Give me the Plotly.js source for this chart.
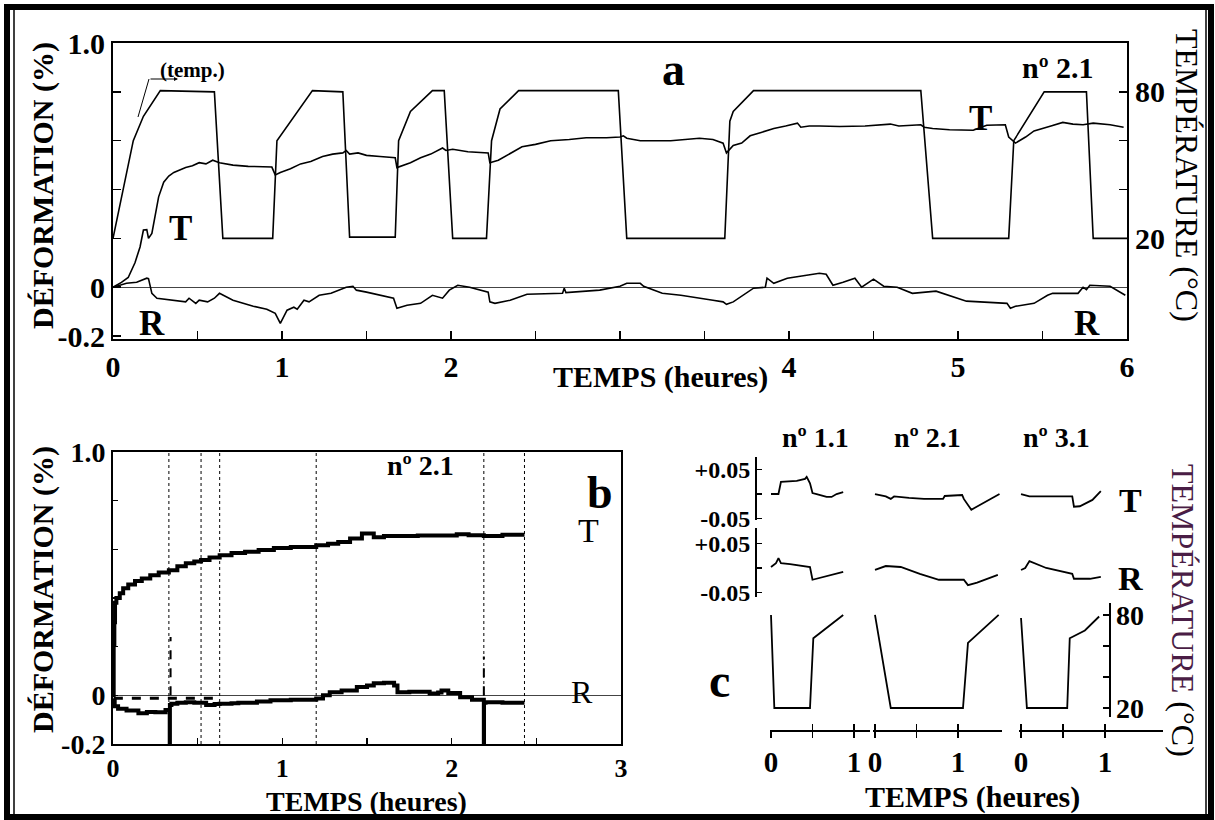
<!DOCTYPE html>
<html><head><meta charset="utf-8">
<script src="https://cdn.plot.ly/plotly-3.0.1.min.js"></script>
<style>html,body{margin:0;padding:0;background:#fff}#chart{width:1215px;height:820px}</style>
</head><body><div id="chart"></div>
<script>
// ---------- Panel a (nº 2.1, 6 h) ----------
const aTempTime = [0, 0.12, 0.18, 0.28, 0.60, 0.65, 0.945, 0.97, 1.18, 1.36, 1.40, 1.67, 1.69, 1.76, 1.89, 1.96, 2.01, 2.21, 2.24, 2.29, 2.40, 2.99, 3.04, 3.62, 3.65, 3.67, 3.79, 4.78, 4.85, 5.30, 5.33, 5.51, 5.76, 5.80, 6.0];
const aTempVal  = [20, 60, 70, 80.5, 80, 20, 20, 60, 80.5, 80, 20.5, 20.5, 60, 72, 80.5, 80.5, 20, 20, 60, 73, 80.5, 80.5, 20, 20, 68, 72, 80.5, 80.5, 20, 20, 60, 80, 80, 20, 20];

const aTTime = [0, 0.05, 0.09, 0.13, 0.16, 0.18, 0.2, 0.21, 0.23, 0.25, 0.27, 0.30, 0.33, 0.36, 0.40, 0.43, 0.47, 0.51, 0.55, 0.59, 0.63, 0.67, 0.71, 0.8, 0.94, 0.96, 0.99, 1.05, 1.11, 1.17, 1.24, 1.30, 1.36, 1.38, 1.40, 1.45, 1.50, 1.58, 1.67, 1.68, 1.70, 1.76, 1.82, 1.88, 1.95, 1.97, 2.01, 2.10, 2.22, 2.23, 2.28, 2.33, 2.42, 2.50, 2.59, 2.70, 2.80, 2.92, 3.00, 3.02, 3.04, 3.08, 3.12, 3.30, 3.47, 3.55, 3.61, 3.63, 3.67, 3.72, 3.77, 3.84, 3.91, 3.98, 4.05, 4.07, 4.12, 4.18, 4.30, 4.45, 4.55, 4.60, 4.65, 4.78, 4.80, 4.85, 4.95, 5.09, 5.17, 5.28, 5.30, 5.34, 5.40, 5.45, 5.55, 5.62, 5.68, 5.74, 5.80, 5.90, 5.98];
const aTVal  = [0, 0.02, 0.04, 0.1, 0.165, 0.234, 0.236, 0.2, 0.22, 0.3, 0.37, 0.43, 0.455, 0.47, 0.483, 0.49, 0.497, 0.51, 0.505, 0.52, 0.51, 0.505, 0.5, 0.495, 0.492, 0.46, 0.47, 0.485, 0.505, 0.515, 0.535, 0.545, 0.55, 0.56, 0.545, 0.55, 0.54, 0.535, 0.53, 0.49, 0.495, 0.51, 0.53, 0.545, 0.57, 0.56, 0.565, 0.555, 0.55, 0.51, 0.52, 0.54, 0.575, 0.585, 0.6, 0.605, 0.612, 0.612, 0.615, 0.62, 0.61, 0.605, 0.6, 0.6, 0.61, 0.605, 0.59, 0.55, 0.58, 0.59, 0.62, 0.635, 0.65, 0.66, 0.672, 0.655, 0.66, 0.66, 0.658, 0.66, 0.665, 0.668, 0.66, 0.665, 0.655, 0.65, 0.645, 0.643, 0.663, 0.665, 0.615, 0.59, 0.615, 0.64, 0.66, 0.675, 0.668, 0.665, 0.672, 0.665, 0.655];

const aRTime = [0, 0.04, 0.08, 0.14, 0.2, 0.21, 0.23, 0.26, 0.36, 0.43, 0.45, 0.49, 0.51, 0.56, 0.60, 0.63, 0.71, 0.83, 0.91, 0.96, 0.99, 1.01, 1.03, 1.07, 1.09, 1.13, 1.16, 1.22, 1.29, 1.38, 1.42, 1.44, 1.50, 1.66, 1.68, 1.74, 1.82, 1.89, 1.95, 1.99, 2.04, 2.11, 2.17, 2.22, 2.23, 2.26, 2.35, 2.45, 2.66, 2.67, 2.68, 2.88, 3.0, 3.04, 3.12, 3.14, 3.25, 3.36, 3.55, 3.61, 3.63, 3.67, 3.79, 3.86, 3.87, 3.91, 3.99, 4.11, 4.18, 4.22, 4.26, 4.32, 4.39, 4.43, 4.50, 4.56, 4.64, 4.73, 4.87, 5.05, 5.29, 5.31, 5.34, 5.45, 5.53, 5.56, 5.71, 5.74, 5.76, 5.78, 5.90, 5.99];
const aRVal  = [0, 0.008, 0.016, 0.02, 0.037, 0.035, -0.025, -0.045, -0.053, -0.06, -0.045, -0.066, -0.053, -0.06, -0.045, -0.025, -0.053, -0.078, -0.09, -0.107, -0.148, -0.123, -0.094, -0.082, -0.09, -0.053, -0.06, -0.033, -0.025, 0, 0.004, -0.012, -0.02, -0.045, -0.086, -0.074, -0.066, -0.033, -0.045, -0.012, 0.008, 0, -0.012, -0.02, -0.06, -0.066, -0.053, -0.029, -0.025, -0.004, -0.022, -0.012, 0.004, 0.016, 0.016, 0.004, -0.025, -0.033, -0.053, -0.06, -0.07, -0.06, -0.004, 0, 0.037, 0.016, 0.037, 0.049, 0.057, 0.053, 0.008, 0.02, 0.037, 0, 0.033, 0.004, 0, -0.025, -0.016, -0.057, -0.066, -0.086, -0.078, -0.066, -0.033, -0.025, -0.025, 0, -0.01, 0.008, 0.004, -0.033];

// ---------- Panel b (nº 2.1, 3 h) ----------
const bTTime = [0, 0.004, 0.008, 0.012, 0.02, 0.04, 0.06, 0.09, 0.13, 0.17, 0.22, 0.27, 0.33, 0.38, 0.43, 0.48, 0.52, 0.57, 0.63, 0.7, 0.78, 0.86, 0.95, 1.05, 1.2, 1.27, 1.33, 1.4, 1.47, 1.54, 1.6, 1.68, 1.8, 1.95, 2.03, 2.1, 2.19, 2.3, 2.43];
const bTVal  = [0, 0.21, 0.3, 0.38, 0.4, 0.42, 0.44, 0.455, 0.47, 0.48, 0.494, 0.505, 0.514, 0.53, 0.543, 0.55, 0.556, 0.566, 0.576, 0.585, 0.59, 0.597, 0.605, 0.61, 0.617, 0.623, 0.63, 0.645, 0.665, 0.65, 0.655, 0.655, 0.657, 0.657, 0.662, 0.658, 0.655, 0.66, 0.66];
const bRTime = [0, 0.01, 0.03, 0.08, 0.15, 0.2, 0.25, 0.31, 0.335, 0.336, 0.345, 0.38, 0.43, 0.48, 0.52, 0.55, 0.6, 0.63, 0.7, 0.74, 0.85, 0.93, 1.05, 1.2, 1.24, 1.28, 1.35, 1.44, 1.5, 1.54, 1.6, 1.66, 1.68, 1.75, 1.87, 1.92, 1.94, 1.98, 2.05, 2.12, 2.19, 2.191, 2.2, 2.3, 2.43];
const bRVal  = [-0.02, -0.045, -0.055, -0.062, -0.074, -0.068, -0.07, -0.06, -0.2, -0.04, -0.035, -0.03, -0.028, -0.03, -0.03, -0.04, -0.036, -0.035, -0.033, -0.03, -0.025, -0.02, -0.018, -0.013, 0.0, 0.013, 0.02, 0.034, 0.04, 0.05, 0.052, 0.04, 0.013, 0.015, 0.008, 0.012, 0.02, 0.01, -0.008, -0.018, -0.2, -0.03, -0.028, -0.03, -0.03];
const bR2Time = [0.005, 0.63];          // faint second R record just under zero
const bR2Val  = [-0.012, -0.012];
const bSpikeTime = [0.34, 0.34, null, 2.19, 2.19];
const bSpikeVal  = [0, 0.24, null, 0, 0.16];
const bEventTimes = [0.33, 0.52, 0.63, 1.20, 2.19, 2.43];

// ---------- Panel c (three specimens) ----------
const cSpecimens = ['nº 1.1', 'nº 2.1', 'nº 3.1'];
const c1TTime = [0, 0.09, 0.12, 0.31, 0.41, 0.43, 0.47, 0.5, 0.55, 0.67, 0.73, 0.79, 0.87];
const c1TVal  = [0, 0, 0.025, 0.027, 0.031, 0.035, 0.022, 0.002, 0, -0.006, -0.006, 0, 0.004];
const c1RTime = [0, 0.06, 0.09, 0.12, 0.23, 0.47, 0.5, 0.63, 0.87];
const c1RVal  = [0.002, 0.01, 0.02, 0.01, 0.008, 0.002, -0.024, -0.018, -0.008];
const c1TempTime = [0, 0.04, 0.47, 0.51, 0.87];
const c1TempVal  = [80, 20, 20, 65, 80];
const c2TTime = [0, 0.13, 0.19, 0.23, 0.41, 0.59, 0.82, 0.84, 1.05, 1.07, 1.16, 1.5];
const c2TVal  = [0, -0.005, -0.01, -0.005, -0.008, -0.01, -0.01, -0.004, -0.002, -0.01, -0.032, 0];
const c2RTime = [0, 0.13, 0.31, 0.54, 0.77, 1.07, 1.12, 1.23, 1.48];
const c2RVal  = [-0.004, 0.004, 0.002, -0.012, -0.024, -0.024, -0.035, -0.03, -0.014];
const c2TempTime = [0, 0.19, 1.06, 1.12, 1.49];
const c2TempVal  = [80, 20, 20, 62, 80];
const c3TTime = [0, 0.1, 0.61, 0.63, 0.7, 0.85, 0.95];
const c3TVal  = [0, -0.005, -0.005, -0.026, -0.025, -0.012, 0.006];
const c3RTime = [0, 0.05, 0.1, 0.3, 0.61, 0.63, 0.82, 0.95];
const c3RVal  = [-0.004, 0, 0.014, 0, -0.012, -0.022, -0.022, -0.018];
const c3TempTime = [0, 0.07, 0.55, 0.58, 0.76, 0.93];
const c3TempVal  = [78, 20, 20, 65, 70, 79];

// ---------- helpers ----------
const W = 1215, H = 820;
const px = x => x / W;
const py = y => 1 - y / H;
const FONT = '"Liberation Serif", "Times New Roman", serif';
const BLACK = '#000';

function line(x, y, xa, ya, width, extra) {
  return Object.assign({type: 'scatter', mode: 'lines', x: x, y: y, xaxis: xa, yaxis: ya,
    line: {color: BLACK, width: width}, hoverinfo: 'skip', showlegend: false}, extra || {});
}

const evX = [], evY = [];
bEventTimes.forEach(t => { evX.push(t, t, null); evY.push(-0.2, 1.0, null); });

const traces = [
  line(aTempTime, aTempVal, 'x', 'y2', 1.6),
  line(aTTime, aTVal, 'x', 'y', 1.6),
  line(aRTime, aRVal, 'x', 'y', 1.6),
  line(evX, evY, 'x2', 'y3', 1, {line: {color: BLACK, width: 1, dash: 'dot'}}),
  line(bSpikeTime, bSpikeVal, 'x2', 'y3', 2, {line: {color: BLACK, width: 2, dash: 'dash'}}),
  line(bR2Time, bR2Val, 'x2', 'y3', 3, {line: {color: BLACK, width: 3, dash: 'dash'}}),
  line(bTTime, bTVal, 'x2', 'y3', 4, {line: {color: BLACK, width: 4, shape: 'hv'}}),
  line(bRTime, bRVal, 'x2', 'y3', 4, {line: {color: BLACK, width: 4, shape: 'hv'}}),
  line(c1TTime, c1TVal, 'x3', 'y4', 1.8),
  line(c1RTime, c1RVal, 'x3', 'y5', 1.8),
  line(c1TempTime, c1TempVal, 'x3', 'y6', 1.8),
  line(c2TTime, c2TVal, 'x4', 'y4', 1.8),
  line(c2RTime, c2RVal, 'x4', 'y5', 1.8),
  line(c2TempTime, c2TempVal, 'x4', 'y6', 1.8),
  line(c3TTime, c3TVal, 'x5', 'y4', 1.8),
  line(c3RTime, c3RVal, 'x5', 'y5', 1.8),
  line(c3TempTime, c3TempVal, 'x5', 'y6', 1.8),
  // empty traces so the upward-tick companion axes of panel c get drawn
  line([null], [null], 'x6', 'y6', 1),
  line([null], [null], 'x7', 'y6', 1),
  line([null], [null], 'x8', 'y6', 1)
];

const tickFont = {family: FONT, size: 30, color: BLACK, weight: 'bold'};
const baseAxis = {showgrid: false, zeroline: false, showline: true, linecolor: BLACK, linewidth: 2,
  ticks: 'inside', ticklen: 8, tickwidth: 1.5, tickcolor: BLACK, tickfont: tickFont, fixedrange: true};

const cX = [
  {domain: [px(770), px(870)], range: [-0.012, 1.193]},
  {domain: [px(873), px(1002)], range: [-0.024, 1.53]},
  {domain: [px(1019), px(1163)], range: [-0.024, 1.69]}
];
function cXAxis(i, up) {
  const a = Object.assign({}, baseAxis, cX[i], {anchor: 'free', position: py(730), linewidth: 1.5,
    ticks: up ? 'inside' : 'outside', ticklen: 6, tickmode: 'array', tickvals: [0, 0.5, 1],
    ticktext: ['0', '', '1'], tickfont: Object.assign({}, tickFont, {size: 29})});
  if (up) { a.overlaying = 'x' + (3 + i); a.showticklabels = false; }
  return a;
}

const layout = {
  width: W, height: H, margin: {l: 0, r: 0, t: 0, b: 0}, paper_bgcolor: '#fff', plot_bgcolor: 'rgba(0,0,0,0)',
  showlegend: false, font: {family: FONT, color: BLACK},
  // panel a
  xaxis: Object.assign({}, baseAxis, {domain: [px(113), px(1127)], range: [0, 6], anchor: 'y', mirror: true,
    tickmode: 'array', tickvals: [0,0.5,1,1.5,2,2.5,3,3.5,4,4.5,5,5.5,6], ticktext: ['0','','1','','2','','','','4','','5','','6']}),
  yaxis: Object.assign({}, baseAxis, {domain: [py(339), py(43)], range: [-0.212, 1.0], anchor: 'x',
    zeroline: true, zerolinecolor: '#444', zerolinewidth: 1,
    tickmode: 'array', tickvals: [-0.2,0,0.2,0.4,0.6,0.8,1.0], ticktext: ['-0.2','0','','','','','1.0']}),
  yaxis2: Object.assign({}, baseAxis, {overlaying: 'y', side: 'right', anchor: 'x', range: [-21.2, 100],
    tickmode: 'array', tickvals: [20,40,60,80], ticktext: ['20','','','80']}),
  // panel b
  xaxis2: Object.assign({}, baseAxis, {domain: [px(113), px(621)], range: [0, 3], anchor: 'y3', mirror: true, ticklen: 6,
    tickfont: Object.assign({}, tickFont, {size: 26}),
    tickmode: 'array', tickvals: [0,0.5,1,1.5,2,2.5,3], ticktext: ['0','','1','','2','','3']}),
  yaxis3: Object.assign({}, baseAxis, {domain: [py(744), py(452)], range: [-0.2, 1.0], anchor: 'x2', mirror: true, ticklen: 5,
    zeroline: true, zerolinecolor: '#444', zerolinewidth: 1,
    tickfont: Object.assign({}, tickFont, {size: 28}),
    tickmode: 'array', tickvals: [-0.2,0,0.2,0.4,0.6,0.8,1.0], ticktext: ['-0.2','0','','','','','1.0']}),
  // panel c x axes (one per specimen) + companions giving the upward half of each tick
  xaxis3: cXAxis(0, false), xaxis4: cXAxis(1, false), xaxis5: cXAxis(2, false),
  xaxis6: cXAxis(0, true), xaxis7: cXAxis(1, true), xaxis8: cXAxis(2, true),
  // panel c y axes
  yaxis4: Object.assign({}, baseAxis, {domain: [py(520), py(457)], range: [-0.053, 0.0755], anchor: 'free', position: px(755),
    linewidth: 1.5, ticklen: 5, tickfont: Object.assign({}, tickFont, {size: 24}),
    tickmode: 'array', tickvals: [-0.05, 0, 0.05], ticktext: ['-0.05', '', '+0.05']}),
  yaxis5: Object.assign({}, baseAxis, {domain: [py(597), py(528)], range: [-0.0592, 0.0816], anchor: 'free', position: px(755),
    linewidth: 1.5, ticklen: 5, tickfont: Object.assign({}, tickFont, {size: 24}),
    tickmode: 'array', tickvals: [-0.05, 0, 0.05], ticktext: ['-0.05', '', '+0.05']}),
  yaxis6: Object.assign({}, baseAxis, {domain: [py(717), py(603)], range: [14.2, 87.7], anchor: 'free', position: px(1109), side: 'right',
    linewidth: 1.5, ticklen: 6, tickfont: Object.assign({}, tickFont, {size: 28}),
    tickmode: 'array', tickvals: [20, 40, 60, 80], ticktext: ['20', '', '', '80']}),
  shapes: [
    {type: 'rect', xref: 'paper', yref: 'paper', x0: px(7), x1: px(1211), y0: py(817), y1: py(7), line: {color: BLACK, width: 6}},
    {type: 'line', xref: 'paper', yref: 'paper', x0: px(14), x1: px(14), y0: py(815), y1: py(9), line: {color: BLACK, width: 1.5}},
    {type: 'line', xref: 'paper', yref: 'paper', x0: px(1206), x1: px(1206), y0: py(815), y1: py(9), line: {color: BLACK, width: 1.5}},
    {type: 'line', xref: 'paper', yref: 'paper', x0: px(138), y0: py(117), x1: px(149), y1: py(79), line: {color: BLACK, width: 1}}
  ],
  annotations: []
};

function ann(text, x, y, size, opts) {
  layout.annotations.push(Object.assign({text: text, x: px(x), y: py(y), xref: 'paper', yref: 'paper',
    showarrow: false, xanchor: 'center', yanchor: 'middle',
    font: {family: FONT, size: size, color: BLACK, weight: 'bold'}}, opts || {}));
}
const normal = s => ({font: {family: FONT, size: s, color: BLACK, weight: 'normal'}});

// panel a texts
ann('a', 673, 70, 46);
ann('nº 2.1', 1058, 68, 30);
ann('(temp.)', 192, 70, 21);
layout.annotations.push({x: px(178), y: py(79), xref: 'paper', yref: 'paper', ax: -29, ay: 0, text: '',
  showarrow: true, arrowhead: 2, arrowsize: 0.8, arrowwidth: 1, arrowcolor: BLACK});
ann('T', 180, 228, 35);
ann('R', 152, 323, 35);
ann('T', 980, 118, 35);
ann('R', 1087, 323, 35);
ann('TEMPS (heures)', 660, 377, 30);
ann('DÉFORMATION (%)', 43, 186, 30, {textangle: -90});
ann('TEMPÉRATURE (°C)', 1187, 175, 32, Object.assign({textangle: 90}, normal(32)));

// panel b texts
ann('b', 600, 492, 46);
ann('nº 2.1', 420, 466, 28);
ann('T', 588, 530, 34, normal(34));
ann('R', 582, 692, 32, normal(32));
ann('TEMPS (heures)', 366, 801, 28);
ann('DÉFORMATION (%)', 43, 590, 30, {textangle: -90});

// panel c texts
const cHeadX = [815, 927, 1056];
cSpecimens.forEach((s, i) => ann(s, cHeadX[i], 437, 28));
ann('T', 1130, 500, 34);
ann('R', 1130, 578, 34);
ann('c', 719, 680, 48);
ann('TEMPS (heures)', 972, 797, 30);
ann('<span style="color:#4a1d45">TEMPÉRATURE</span> (°C)', 1183, 610, 32,
  Object.assign({textangle: 90}, normal(32)));

Plotly.newPlot('chart', traces, layout, {staticPlot: true});
</script>
</body></html>
